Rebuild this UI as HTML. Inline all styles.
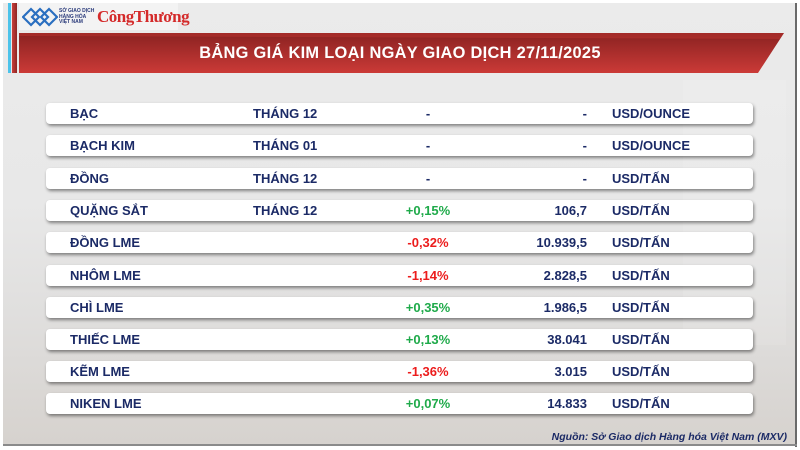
<!DOCTYPE html>
<html><head><meta charset="utf-8">
<style>
*{margin:0;padding:0;box-sizing:border-box}
html,body{width:800px;height:450px;overflow:hidden;background:#fff}
body{position:relative;font-family:"Liberation Sans","DejaVu Sans",sans-serif}
.bg{position:absolute;left:3px;top:3px;width:793px;height:442px;
background:linear-gradient(180deg,#ebebeb 0%,#e8e8e8 45%,#e0dfde 70%,#d6d2ce 100%);}
.bg2{position:absolute;left:683px;top:80px;width:103px;height:265px;background:rgba(255,255,255,0.1)}
.rline{position:absolute;left:795px;top:3px;width:2px;height:444px;background:#6a6a6a}
.bline{position:absolute;left:3px;top:444px;width:794px;height:2px;background:#8a8a8a}
.cyan{position:absolute;left:8px;top:3px;width:3px;height:70px;background:#4cc3ea}
.red{position:absolute;left:12px;top:3px;width:5px;height:70px;background:linear-gradient(90deg,#c8403c,#8e2624)}
.logo{position:absolute;left:19px;top:3px;width:159px;height:27px;background:#f3f3f3}
.logo .t{position:absolute;left:40px;top:6px;font-size:5px;line-height:5.5px;color:#2a3a7a;font-weight:bold}
.logo .ct{position:absolute;left:78px;top:4px;font-family:"Liberation Serif",serif;font-weight:bold;font-size:17px;color:#d42a2a;letter-spacing:-0.5px}
.banner{position:absolute;left:0;top:0}
.title{position:absolute;left:0;width:800px;top:43px;text-align:center;color:#fff;font-weight:bold;font-size:16.4px;line-height:20px;letter-spacing:0.3px}
.row{position:absolute;left:46px;width:707px;height:21px;background:#fff;border-radius:4px;box-shadow:1px 2px 3px rgba(0,0,0,0.45)}
.row span{position:absolute;top:0;line-height:21px;font-size:13px;font-weight:bold;color:#1b2a66;white-space:nowrap}
.n{left:24px}
.m{left:207px}
.c{left:332px;width:100px;text-align:center}
.p{right:166px;text-align:right}
.u{left:566px}
.g{color:#1faa4a!important}
.r{color:#ec1c1c!important}
.src{position:absolute;right:13px;top:431px;font-size:10.5px;font-style:italic;font-weight:bold;color:#1b2a66;white-space:nowrap}
</style></head><body>
<div class="bg"></div>
<div class="bg2"></div>
<div class="rline"></div>
<div class="bline"></div>
<div class="cyan"></div>
<div class="red"></div>
<div class="logo">
<svg style="position:absolute;left:3px;top:4px" width="36" height="20" viewBox="0 0 36 20">
<g fill="none" stroke="#2a6fc0" stroke-width="2.2">
<path d="M1 10 L9 2 L17 10 L9 18 Z"/>
<path d="M10 10 L18 2 L26 10 L18 18 Z"/>
<path d="M19 10 L27 2 L35 10 L27 18 Z"/>
</g></svg>
<div class="t">SỞ GIAO DỊCH<br>HÀNG HÓA<br>VIỆT NAM</div>
<div class="ct">CôngThương</div>
</div>
<svg class="banner" width="800" height="80">
<defs><linearGradient id="bg1" x1="0" y1="0" x2="0" y2="1">
<stop offset="0" stop-color="#8a2221"/><stop offset="1" stop-color="#cb3a37"/></linearGradient></defs>
<polygon points="19,33 784,33 758,73 19,73" fill="url(#bg1)"/>
<polygon points="19,33 784,33 780,39 19,36" fill="rgba(210,60,55,0.35)"/>
</svg>
<div class="title">BẢNG GIÁ KIM LOẠI NGÀY GIAO DỊCH 27/11/2025</div>

<div class="row" style="top:103px"><span class="n">BẠC</span><span class="m">THÁNG 12</span><span class="c">-</span><span class="p">-</span><span class="u">USD/OUNCE</span></div>
<div class="row" style="top:135px"><span class="n">BẠCH KIM</span><span class="m">THÁNG 01</span><span class="c">-</span><span class="p">-</span><span class="u">USD/OUNCE</span></div>
<div class="row" style="top:168px"><span class="n">ĐỒNG</span><span class="m">THÁNG 12</span><span class="c">-</span><span class="p">-</span><span class="u">USD/TẤN</span></div>
<div class="row" style="top:200px"><span class="n">QUẶNG SẮT</span><span class="m">THÁNG 12</span><span class="c g">+0,15%</span><span class="p">106,7</span><span class="u">USD/TẤN</span></div>
<div class="row" style="top:232px"><span class="n">ĐỒNG LME</span><span class="c r">-0,32%</span><span class="p">10.939,5</span><span class="u">USD/TẤN</span></div>
<div class="row" style="top:265px"><span class="n">NHÔM LME</span><span class="c r">-1,14%</span><span class="p">2.828,5</span><span class="u">USD/TẤN</span></div>
<div class="row" style="top:297px"><span class="n">CHÌ LME</span><span class="c g">+0,35%</span><span class="p">1.986,5</span><span class="u">USD/TẤN</span></div>
<div class="row" style="top:329px"><span class="n">THIẾC LME</span><span class="c g">+0,13%</span><span class="p">38.041</span><span class="u">USD/TẤN</span></div>
<div class="row" style="top:361px"><span class="n">KẼM LME</span><span class="c r">-1,36%</span><span class="p">3.015</span><span class="u">USD/TẤN</span></div>
<div class="row" style="top:393px"><span class="n">NIKEN LME</span><span class="c g">+0,07%</span><span class="p">14.833</span><span class="u">USD/TẤN</span></div>

<div class="src">Nguồn: Sở Giao dịch Hàng hóa Việt Nam (MXV)</div>
</body></html>
